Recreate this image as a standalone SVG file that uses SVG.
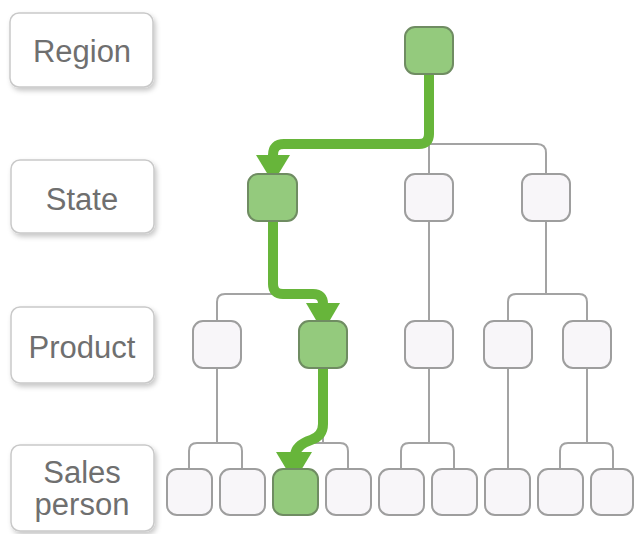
<svg xmlns="http://www.w3.org/2000/svg" width="634" height="534" viewBox="0 0 634 534">
<defs>
<filter id="sh" x="-20%" y="-20%" width="150%" height="150%">
<feDropShadow dx="2" dy="3" stdDeviation="2.5" flood-color="#000" flood-opacity="0.22"/>
</filter>
<style>
.lbl{fill:#fff;stroke:#c9c9c9;stroke-width:1.5;filter:url(#sh)}
.lt{font-family:"Liberation Sans",Arial,sans-serif;font-size:31px;fill:#6f6f6f;text-anchor:middle}
.n{fill:#f8f6f9;stroke:#9e9e9e;stroke-width:2}
.g{fill:#94ca7d;stroke:#6f8c62;stroke-width:2}
.c{fill:none;stroke:#a3a3a3;stroke-width:2}
.p{fill:none;stroke:#67b53a;stroke-width:10;stroke-linejoin:round}
.ah{fill:#67b53a}
</style>
</defs>
<rect width="634" height="534" fill="#fff"/>
<g id="labels">
<g id="lbl-region"><rect class="lbl" x="10" y="13" width="143" height="74" rx="9"/><text class="lt" x="82" y="62">Region</text></g>
<g id="lbl-state"><rect class="lbl" x="11" y="160" width="143" height="73" rx="9"/><text class="lt" x="82" y="210">State</text></g>
<g id="lbl-product"><rect class="lbl" x="11" y="307" width="143" height="76" rx="9"/><text class="lt" x="82" y="358">Product</text></g>
<g id="lbl-sales"><rect class="lbl" x="11" y="445" width="143" height="86" rx="9"/><text class="lt" x="82" y="483">Sales</text><text class="lt" x="82" y="515">person</text></g>
</g>
<g id="connectors">
<path class="c" d="M429,73 V173 M272,173 V153 Q272,144 281,144 H537 Q546,144 546,153 V173"/>
<path class="c" d="M272,222 V294 M217,321 V302 Q217,294 225,294 H315 Q323,294 323,302 V321"/>
<path class="c" d="M429,222 V321"/>
<path class="c" d="M546,222 V294 M508,321 V302 Q508,294 516,294 H579 Q587,294 587,302 V321"/>
<path class="c" d="M217,368 V443 M189,469 V451 Q189,443 197,443 H234 Q242,443 242,451 V469"/>
<path class="c" d="M323,368 V443 M295,469 V451 Q295,443 303,443 H340 Q348,443 348,451 V469"/>
<path class="c" d="M429,368 V443 M401,469 V451 Q401,443 409,443 H446 Q454,443 454,451 V469"/>
<path class="c" d="M508,368 V469"/>
<path class="c" d="M587,368 V443 M560,469 V451 Q560,443 568,443 H605 Q613,443 613,451 V469"/>
<g id="path-highlight">
<path class="p" d="M429,73 V134 Q429,144 419,144 H284 Q273,144 273,155 V160"/>
<polygon class="ah" points="256,155 290,155 273,183"/>
<path class="p" d="M273,222 V284 Q273,294 283,294 H313 Q323,294 323,304 V306"/>
<polygon class="ah" points="306,303 340,303 323,332"/>
<path class="p" d="M323,368 V424 Q323,436 311,440 Q296,445 295,455"/>
<polygon class="ah" points="276,452 312,452 294,482"/>
</g>
</g>
<g id="region"><rect id="r1" class="g" x="405" y="27" width="48" height="47" rx="10"/></g>
<g id="state">
<rect id="s1" class="g" x="248" y="174" width="49" height="47" rx="10"/>
<rect id="s2" class="n" x="405" y="174" width="48" height="47" rx="10"/>
<rect id="s3" class="n" x="522" y="174" width="48" height="47" rx="10"/>
</g>
<g id="product">
<rect id="p1" class="n" x="193" y="321" width="48" height="47" rx="10"/>
<rect id="p2" class="g" x="299" y="321" width="48" height="47" rx="10"/>
<rect id="p3" class="n" x="405" y="321" width="48" height="47" rx="10"/>
<rect id="p4" class="n" x="484" y="321" width="48" height="47" rx="10"/>
<rect id="p5" class="n" x="563" y="321" width="48" height="47" rx="10"/>
</g>
<g id="sales">
<rect id="sp1" class="n" x="167" y="469" width="45" height="46" rx="10"/>
<rect id="sp2" class="n" x="220" y="469" width="45" height="46" rx="10"/>
<rect id="sp3" class="g" x="273" y="469" width="45" height="46" rx="10"/>
<rect id="sp4" class="n" x="326" y="469" width="45" height="46" rx="10"/>
<rect id="sp5" class="n" x="379" y="469" width="45" height="46" rx="10"/>
<rect id="sp6" class="n" x="432" y="469" width="45" height="46" rx="10"/>
<rect id="sp7" class="n" x="485" y="469" width="45" height="46" rx="10"/>
<rect id="sp8" class="n" x="538" y="469" width="45" height="46" rx="10"/>
<rect id="sp9" class="n" x="591" y="469" width="42" height="46" rx="10"/>
</g>
</svg>
